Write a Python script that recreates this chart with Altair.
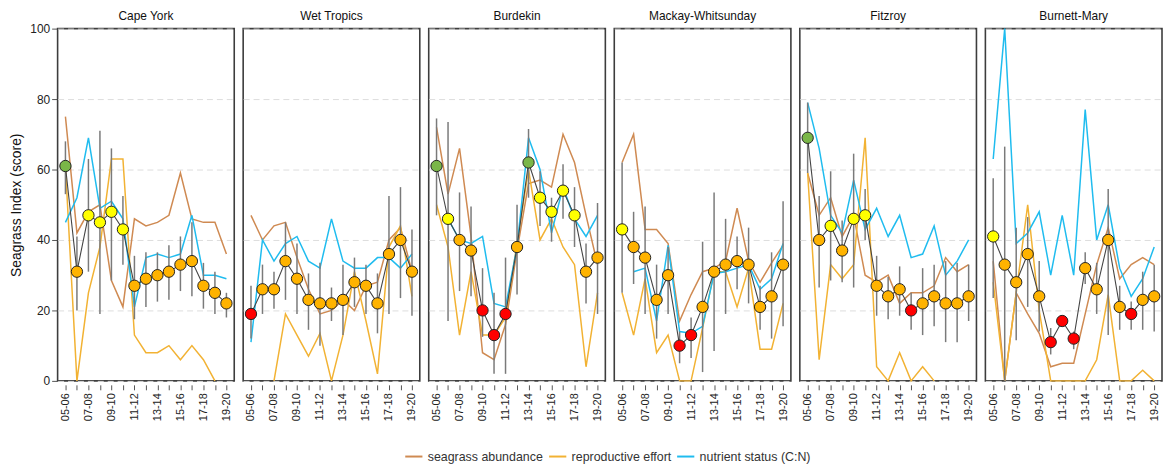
import altair as alt
import pandas as pd

years = ["05-06", "06-07", "07-08", "08-09", "09-10", "10-11", "11-12", "12-13",
         "13-14", "14-15", "15-16", "16-17", "17-18", "18-19", "19-20"]
shown_labels = ["05-06", "07-08", "09-10", "11-12", "13-14", "15-16", "17-18", "19-20"]
regions = ["Cape York", "Wet Tropics", "Burdekin", "Mackay-Whitsunday", "Fitzroy", "Burnett-Mary"]
series_names = ["seagrass abundance", "reproductive effort", "nutrient status (C:N)"]
series_colors = ["#cf8a52", "#f2b233", "#1fbcef"]

# Seagrass index score (points) and its error bar limits
score = {
    "Cape York": [61, 31, 47, 45, 48, 43, 27, 29, 30, 31, 33, 34, 27, 25, 22],
    "Wet Tropics": [19, 26, 26, 34, 29, 23, 22, 22, 23, 28, 27, 22, 36, 40, 31],
    "Burdekin": [61, 46, 40, 37, 20, 13, 19, 38, 62, 52, 48, 54, 47, 31, 35],
    "Mackay-Whitsunday": [43, 38, 35, 23, 30, 10, 13, 21, 31, 33, 34, 33, 21, 24, 33],
    "Fitzroy": [69, 40, 44, 37, 46, 47, 27, 24, 26, 20, 22, 24, 22, 22, 24],
    "Burnett-Mary": [41, 33, 28, 36, 24, 11, 17, 12, 32, 26, 40, 21, 19, 23, 24],
}
lo = {
    "Cape York": [53, 20, 31, 19, 28.5, 33, 17.5, 21, 22.5, 23, 25.5, 24, 20.5, 19, 18],
    "Wet Tropics": [12, 19, 20.5, 23, 19, 14.5, 10, 17, 13, 21, 19, 13.5, 19, 23.5, 18.5],
    "Burdekin": [47, 17, 25.5, 24, 12.5, 2, 2, 24.5, 52, 44, 39.5, 46, 38, 22, 19],
    "Mackay-Whitsunday": [25, 27.5, 19, 12, 19, 5, 6.5, 2.5, 8.5, 19, 26, 22, 14.5, 12, 15.5],
    "Fitzroy": [59, 26.5, 28.5, 28, 26.5, 40, 18.5, 17.5, 18.5, 14.5, 13, 15.5, 11, 11, 17],
    "Burnett-Mary": [23.5, 0, 11.5, 21, 14, 7.5, 15.5, 9, 27.5, 19, 13, 14.5, 14.5, 14.5, 14],
}
hi = {
    "Cape York": [68, 41, 63, 71, 66, 52.5, 35.5, 36.5, 36.5, 38.5, 41, 45, 33.5, 31, 25],
    "Wet Tropics": [27, 33, 31, 45, 39, 30.5, 33.5, 26.5, 33, 35, 33, 30.5, 52.5, 55, 43],
    "Burdekin": [74.5, 73.5, 53.5, 49.5, 32, 25, 35, 50, 71.5, 59.5, 52, 61.5, 55, 39, 50.5],
    "Mackay-Whitsunday": [62, 48, 49.5, 33, 38, 14, 18, 39.5, 53.5, 46, 41, 43.5, 27, 36.5, 51],
    "Fitzroy": [79, 52.5, 59.5, 45.5, 64.5, 54.5, 35.5, 29.5, 32.5, 25, 32, 33, 34, 33.5, 33],
    "Burnett-Mary": [57.5, 66.5, 43.5, 46.5, 34, 15, 18.5, 14, 36.5, 33.5, 54.5, 27, 22.5, 31, 33],
}
abundance = {
    "Cape York": [75, 42, 48, 50, 28.5, 21, 46, 44, 45, 47, 59, 46, 45, 45, 36],
    "Wet Tropics": [47, 40, 44, 45, 35, 26, 19, 20, 23, 20, 27, 28, 40, 43.5, 31],
    "Burdekin": [72, 53, 66, 41, 8, 6, 16, 37, 56, 57, 55, 70, 62, 47, 33],
    "Mackay-Whitsunday": [62, 70, 43, 43, 39, 17, 24.5, 31, 32, 34, 49, 34, 28, 33.5, 38.5],
    "Fitzroy": [59, 47, 52, 41, 47, 30, 28, 30, 22, 25, 25, 27, 35, 31, 33],
    "Burnett-Mary": [34, 0, 25, 19, 13.5, 4, 5, 5, 19, 33, 43.5, 29, 33, 35, 33],
}
reproductive = {
    "Cape York": [61, 0, 25, 38, 63, 63, 13, 8, 8, 10, 6, 10, 6, 0, None],
    "Wet Tropics": [None, None, 0, 19, 13, 7, 13.5, 0, 13, 31, 17, 2, 38, 44, 24],
    "Burdekin": [50, 38, 13, 31, 13, 13, 18, 39, 60, 40, 46, 38, 33, 4, 25],
    "Mackay-Whitsunday": [25, 13, 29, 8, 13, 0, 0, 15, 31, 31, 21, 32, 9, 9, 22],
    "Fitzroy": [59, 6, 33, 29, 33, 69, 4, 0, 8, 0, 4, 0, None, None, None],
    "Burnett-Mary": [28, 0, 25, 50, 20, 0, 0, 0, 0, 6, 24.5, 0, 0, 3, 0],
}
nutrient = {
    "Cape York": [45, 52, 69, 49, 51, 46, 21, 35, 36, 35, 36, 47, 30, 30, 29],
    "Wet Tropics": [11, 40, 34, 39, 41, 34, 32, 46, 34, 32, 32, 35, 35, 32, 36],
    "Burdekin": [None, 46, 40, 39, 41, 22, 21, 38, 69, 60, 42, 55, 46, 41, 47],
    "Mackay-Whitsunday": [None, 31, 32, 17, 38.5, 14, 13.5, 15.5, 30.5, 31, 32, 33, 26, 29, 39],
    "Fitzroy": [79, 66, 47, 42, 57, 43, 49, 41, 47, 35, 36, 44, 30, 34, 40],
    "Burnett-Mary": [63, 100, 39, 42, 48, 30, 47, 30, 77, 40, 50, 32, 24, 29, 38],
}

rows = []
for r in regions:
    for i, y in enumerate(years):
        rows.append({
            "region": r, "year": y,
            "score": score[r][i], "lo": lo[r][i], "hi": hi[r][i],
            "seagrass abundance": abundance[r][i],
            "reproductive effort": reproductive[r][i],
            "nutrient status (C:N)": nutrient[r][i],
        })
df = pd.DataFrame(rows)

label_list = "[" + ",".join("'%s'" % s for s in shown_labels) + "]"
x_enc = alt.X(
    "year:N", sort=years,
    scale=alt.Scale(type="point", padding=0.68),
    axis=alt.Axis(
        title=None, labelAngle=270, labelAlign="right", labelBaseline="middle",
        labelFontSize=11, labelColor="#222", tickSize=5, tickColor="#555",
        labelPadding=3, domain=False,
        labelExpr="indexof(%s, datum.label) >= 0 ? datum.label : ''" % label_list,
    ),
)
y_axis = alt.Axis(
    title="Seagrass Index (score)", values=[0, 20, 40, 60, 80, 100],
    grid=True, gridDash=[6, 4], gridColor="#dddddd", domain=False,
    tickColor="#555", tickSize=5, labelFontSize=12, labelColor="#222",
    titleFontSize=14, titleFontWeight="normal", titleColor="#111", titlePadding=6,
)
y_scale = alt.Scale(domain=[0, 100], nice=False)

lines = alt.Chart().transform_fold(
    series_names, as_=["series", "value"]
).mark_line(strokeWidth=1.5).encode(
    x=x_enc,
    y=alt.Y("value:Q", scale=y_scale, axis=y_axis),
    color=alt.Color(
        "series:N",
        scale=alt.Scale(domain=series_names, range=series_colors),
        legend=alt.Legend(
            title=None, orient="none", direction="horizontal",
            legendX=349, legendY=421,
            symbolType="stroke", symbolStrokeWidth=2, symbolSize=300,
            labelFontSize=12.5, labelColor="#333", columnPadding=1,
        ),
    ),
)

bars = alt.Chart().mark_rule(color="#7a7a7a", strokeWidth=1.5).encode(
    x=x_enc,
    y=alt.Y("lo:Q", scale=y_scale, axis=y_axis),
    y2="hi:Q",
)

score_line = alt.Chart().mark_line(color="#444444", strokeWidth=1.1).encode(
    x=x_enc,
    y=alt.Y("score:Q", scale=y_scale, axis=y_axis),
)

points = alt.Chart().mark_circle(size=130, stroke="#222222", strokeWidth=1, opacity=1).encode(
    x=x_enc,
    y=alt.Y("score:Q", scale=y_scale, axis=y_axis),
    fill=alt.Fill(
        "score:Q",
        scale=alt.Scale(type="threshold", domain=[20.5, 40.5, 60.5, 80.5],
                        range=["#ff0000", "#ffb300", "#ffff00", "#7ab648", "#00a651"]),
        legend=None,
    ),
)

chart = alt.layer(lines, bars, score_line, points, data=df).properties(
    width=178, height=355
).facet(
    column=alt.Column(
        "region:N", sort=regions,
        header=alt.Header(title=None, labelFontSize=12, labelColor="#111", labelPadding=2),
    ),
    spacing=7,
).properties(
    padding={"left": 1, "top": 0, "right": 0, "bottom": 1},
).configure(
    font="Liberation Sans",
).configure_view(
    stroke="#3d3d3d", strokeWidth=1.6,
)

chart.save("out.html", embed_options={"renderer": "svg", "actions": False})
